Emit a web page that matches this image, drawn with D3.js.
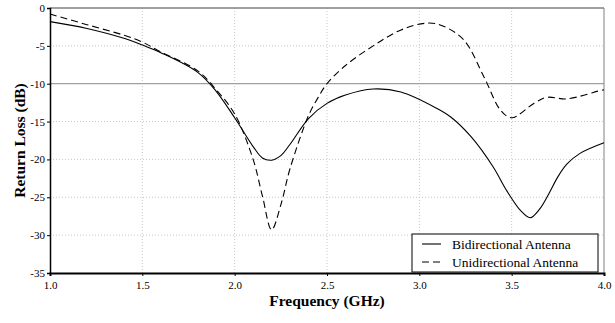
<!DOCTYPE html>
<html>
<head>
<meta charset="utf-8">
<script src="https://cdn.jsdelivr.net/npm/d3@7"></script>
<style>
  body { margin: 0; background: #fff; }
  text { font-family: "Liberation Serif", "Times New Roman", serif; }
</style>
</head>
<body>
<svg id="chart" width="615" height="323"></svg>
<script>
// Frequency (GHz) and return loss (dB)
const bi_freq = [1.0, 1.2, 1.4, 1.5, 1.6, 1.8, 1.9, 2.0, 2.1, 2.15, 2.2, 2.25, 2.3, 2.4, 2.5, 2.6, 2.75, 2.9, 3.09, 3.17, 3.28, 3.4, 3.47, 3.55, 3.6, 3.65, 3.7, 3.75, 3.8, 3.87, 4.0]
const bi_loss = [-1.8, -2.7, -4.0, -4.9, -5.9, -8.5, -11.0, -14.5, -18.3, -19.8, -20.1, -19.5, -18.0, -14.6, -12.6, -11.5, -10.7, -11.1, -13.2, -14.4, -17.0, -21.0, -24.0, -26.8, -27.7, -26.6, -24.6, -22.3, -20.6, -19.2, -17.8]

const uni_freq = [1.0, 1.2, 1.4, 1.5, 1.6, 1.8, 1.9, 2.0, 2.1, 2.15, 2.2, 2.25, 2.3, 2.4, 2.45, 2.5, 2.6, 2.75, 2.9, 3.04, 3.12, 3.24, 3.35, 3.44, 3.5, 3.62, 3.69, 3.8, 3.98, 4.0]
const uni_loss = [-0.8, -2.2, -3.6, -4.5, -5.8, -8.3, -10.8, -14.0, -20.0, -24.8, -29.3, -26.0, -21.2, -14.2, -11.9, -10.0, -7.6, -5.0, -2.9, -2.0, -2.3, -4.2, -9.1, -13.5, -14.5, -12.6, -11.8, -12.0, -10.9, -10.8]

const x_ticks = [1.0, 1.5, 2.0, 2.5, 3.0, 3.5, 4.0]
const y_ticks = [0, -5, -10, -15, -20, -25, -30, -35]
const legend_names = ['Bidirectional Antenna', 'Unidirectional Antenna']

const svg = d3.select('#chart')
const margin = { left: 50, right: 11, top: 8, bottom: 50 }
const width = 615 - margin.left - margin.right
const height = 323 - margin.top - margin.bottom

const x = d3.scaleLinear().domain([1, 4]).range([margin.left, margin.left + width])
const y = d3.scaleLinear().domain([-35, 0]).range([margin.top + height, margin.top])

// Grid
const grid = svg.append('g')
grid.selectAll('.vgrid')
  .data(x_ticks.slice(1, -1))
  .join('line')
  .attr('x1', d => x(d)).attr('x2', d => x(d))
  .attr('y1', y(0)).attr('y2', y(-35))
  .attr('stroke', '#c8c8c8')
  .attr('stroke-dasharray', '1,2')
grid.selectAll('.hgrid')
  .data(y_ticks.filter(d => d != 0 && d != -35))
  .join('line')
  .attr('x1', x(1)).attr('x2', x(4))
  .attr('y1', d => y(d)).attr('y2', d => y(d))
  .attr('stroke', d => d == -10 ? '#a0a0a0' : '#c8c8c8')
  .attr('stroke-width', d => d == -10 ? 1.2 : 1)
  .attr('stroke-dasharray', d => d == -10 ? null : '1,2')

// Top and right frame
svg.append('line')
  .attr('x1', x(1)).attr('x2', x(4)).attr('y1', y(0)).attr('y2', y(0))
  .attr('stroke', '#808080').attr('stroke-width', 1.5)
svg.append('line')
  .attr('x1', x(4)).attr('x2', x(4)).attr('y1', y(0)).attr('y2', y(-35))
  .attr('stroke', '#808080').attr('stroke-width', 1)

// Axes
const x_axis = svg.append('g')
  .attr('transform', `translate(0,${y(-35)})`)
  .call(d3.axisBottom(x).tickValues(x_ticks).tickFormat(d3.format('.1f')).tickSize(3).tickPadding(5))
x_axis.select('.domain').attr('stroke-width', 2)
const y_axis = svg.append('g')
  .attr('transform', `translate(${x(1)},0)`)
  .call(d3.axisLeft(y).tickValues(y_ticks).tickSize(3).tickPadding(2))
y_axis.select('.domain').attr('stroke-width', 1.5)
svg.selectAll('.tick text')
  .style('font-family', '"Liberation Serif", serif')
  .style('font-size', '11px')
  .attr('fill', '#000')
y_axis.selectAll('.tick text').text(d => d == 0 ? '0' : '-' + Math.abs(d))

// Axis titles
svg.append('text')
  .attr('x', x(2.5)).attr('y', 306)
  .attr('text-anchor', 'middle')
  .style('font-size', '15.5px').style('font-weight', 'bold')
  .text('Frequency (GHz)')
svg.append('text')
  .attr('transform', `translate(25,${y(-17.5)}) rotate(-90)`)
  .attr('text-anchor', 'middle')
  .style('font-size', '15.5px').style('font-weight', 'bold')
  .text('Return Loss (dB)')

// Curves
const line = d3.line()
  .x(d => x(d[0]))
  .y(d => y(d[1]))
  .curve(d3.curveCatmullRom.alpha(0.5))

svg.append('path')
  .datum(d3.zip(bi_freq, bi_loss))
  .attr('d', line)
  .attr('fill', 'none')
  .attr('stroke', '#000')
  .attr('stroke-width', 1.1)
svg.append('path')
  .datum(d3.zip(uni_freq, uni_loss))
  .attr('d', line)
  .attr('fill', 'none')
  .attr('stroke', '#000')
  .attr('stroke-width', 1.1)
  .attr('stroke-dasharray', '7,4')

// Legend
const legend = svg.append('g').attr('transform', 'translate(412,234)')
legend.append('rect')
  .attr('width', 186).attr('height', 38)
  .attr('fill', '#fff').attr('stroke', '#000').attr('stroke-width', 1)
legend_names.forEach((name, i) => {
  let ly = 10 + i * 18
  legend.append('line')
    .attr('x1', 10).attr('x2', 29).attr('y1', ly).attr('y2', ly)
    .attr('stroke', '#000').attr('stroke-width', 1.1)
    .attr('stroke-dasharray', i == 1 ? '7,4' : null)
  legend.append('text')
    .attr('x', 40).attr('y', ly + 4.5)
    .style('font-size', '13.5px')
    .text(name)
})
</script>
</body>
</html>
